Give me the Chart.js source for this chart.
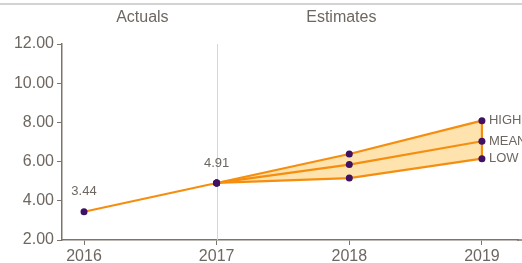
<!DOCTYPE html>
<html>
<head>
<meta charset="utf-8">
<script src="https://cdn.jsdelivr.net/npm/chart.js@4"></script>
<style>
    html, body { margin: 0; padding: 0; background: #fff; }
    #wrap { width: 522px; height: 263px; }
</style>
</head>
<body>
<div id="wrap"><canvas id="chart"></canvas></div>
<script>
// values
const actualYears = [2016, 2017];
const actualValues = [3.44, 4.91];
const estimateYears = [2017, 2018, 2019];
const highValues = [4.91, 6.39, 8.09];
const meanValues = [4.91, 5.85, 7.04];
const lowValues = [4.91, 5.16, 6.15];
const xTicks = [2016, 2017, 2018, 2019];
const seriesNames = ['HIGH', 'MEAN', 'LOW'];

const ORANGE = '#f58e0f';
const PURPLE = '#3f1163';
const TEXT = '#6e6761';
const AXIS = '#7d746c';

const pts = (xs, ys) => xs.map((x, i) => ({ x: x, y: ys[i] }));

const lineStyle = {
    borderColor: ORANGE,
    borderWidth: 2.2,
    pointBackgroundColor: PURPLE,
    pointBorderColor: PURPLE,
    pointRadius: 3.5,
    pointBorderWidth: 0,
    tension: 0,
    fill: false,
};

const decorations = {
    id: 'decorations',
    beforeDatasetsDraw(chart) {
        const { ctx, chartArea, scales } = chart;
        const x = scales.x;
        ctx.save();
        // top rule
        ctx.strokeStyle = '#c4c4c4';
        ctx.lineWidth = 1.5;
        ctx.beginPath();
        ctx.moveTo(0, 4);
        ctx.lineTo(chart.width, 4);
        ctx.stroke();
        // x axis line runs on to the right edge
        ctx.strokeStyle = AXIS;
        ctx.beginPath();
        ctx.moveTo(chartArea.right - 1, chartArea.bottom);
        ctx.lineTo(chart.width, chartArea.bottom);
        ctx.stroke();
        // divider between actuals and estimates
        const xd = Math.round(x.getPixelForValue(2017)) + 0.5;
        ctx.strokeStyle = '#d6d6d6';
        ctx.lineWidth = 1;
        ctx.beginPath();
        ctx.moveTo(xd, chartArea.top);
        ctx.lineTo(xd, chartArea.bottom);
        ctx.stroke();
        // section titles
        ctx.fillStyle = TEXT;
        ctx.font = '16px "Liberation Sans", Arial, sans-serif';
        ctx.textAlign = 'center';
        ctx.textBaseline = 'middle';
        ctx.fillText('Actuals', x.getPixelForValue(2016.44), 18);
        ctx.fillText('Estimates', x.getPixelForValue(2017.94), 18);
        ctx.restore();
    },
    afterDatasetsDraw(chart) {
        const { ctx, scales } = chart;
        const x = scales.x, y = scales.y;
        ctx.save();
        ctx.fillStyle = TEXT;
        ctx.font = '13px "Liberation Sans", Arial, sans-serif';
        ctx.textAlign = 'center';
        ctx.textBaseline = 'middle';
        actualYears.forEach((yr, i) => {
            ctx.fillText(actualValues[i].toFixed(2), x.getPixelForValue(yr), y.getPixelForValue(actualValues[i]) - 20);
        });
        ctx.textAlign = 'left';
        const last = estimateYears.length - 1;
        [highValues, meanValues, lowValues].forEach((vals, i) => {
            ctx.fillText(seriesNames[i], x.getPixelForValue(estimateYears[last]) + 7, y.getPixelForValue(vals[last]));
        });
        ctx.restore();
    }
};

new Chart(document.getElementById('chart'), {
    type: 'line',
    data: {
        datasets: [
            // band between high and low, drawn underneath everything
            { ...lineStyle, data: pts(estimateYears, highValues), fill: { target: '+1' }, backgroundColor: '#ffe3ae', borderWidth: 0, pointRadius: 0, order: 10 },
            { ...lineStyle, data: pts(estimateYears, lowValues), borderWidth: 0, pointRadius: 0, order: 10 },
            { ...lineStyle, data: [{ x: 2019, y: highValues[2] }, { x: 2019, y: lowValues[2] }], pointRadius: 0, order: 5 },
            { ...lineStyle, data: pts(estimateYears, highValues) },
            { ...lineStyle, data: pts(estimateYears, meanValues) },
            { ...lineStyle, data: pts(estimateYears, lowValues) },
            { ...lineStyle, data: pts(actualYears, actualValues) },
        ],
    },
    options: {
        responsive: true,
        maintainAspectRatio: false,
        animation: false,
        layout: { padding: { top: 44, right: 0, left: 0, bottom: 0 } },
        plugins: {
            legend: { display: false },
            tooltip: { enabled: false },
            filler: { propagate: false, drawTime: 'beforeDatasetsDraw' },
        },
        scales: {
            x: {
                type: 'linear',
                min: 2015.834,
                max: 2019.272,
                afterBuildTicks: (s) => { s.ticks = xTicks.map((v) => ({ value: v })); },
                afterFit: (s) => { s.height = 23; },
                grid: { drawOnChartArea: false, color: AXIS, tickLength: 5, tickWidth: 1 },
                border: { color: AXIS, width: 1.5 },
                ticks: {
                    color: TEXT,
                    padding: 2,
                    maxRotation: 0,
                    font: { family: '"Liberation Sans", Arial, sans-serif', size: 16 },
                    callback: (v) => String(v),
                },
            },
            y: {
                min: 2,
                max: 12,
                afterFit: (s) => { s.width = 62; },
                grid: { drawOnChartArea: false, color: AXIS, tickLength: 5, tickWidth: 1 },
                border: { color: AXIS, width: 1.5 },
                ticks: {
                    stepSize: 2,
                    color: TEXT,
                    padding: 3,
                    font: { family: '"Liberation Sans", Arial, sans-serif', size: 16 },
                    callback: (v) => v.toFixed(2),
                },
            },
        },
    },
    plugins: [decorations],
});
</script>
</body>
</html>
